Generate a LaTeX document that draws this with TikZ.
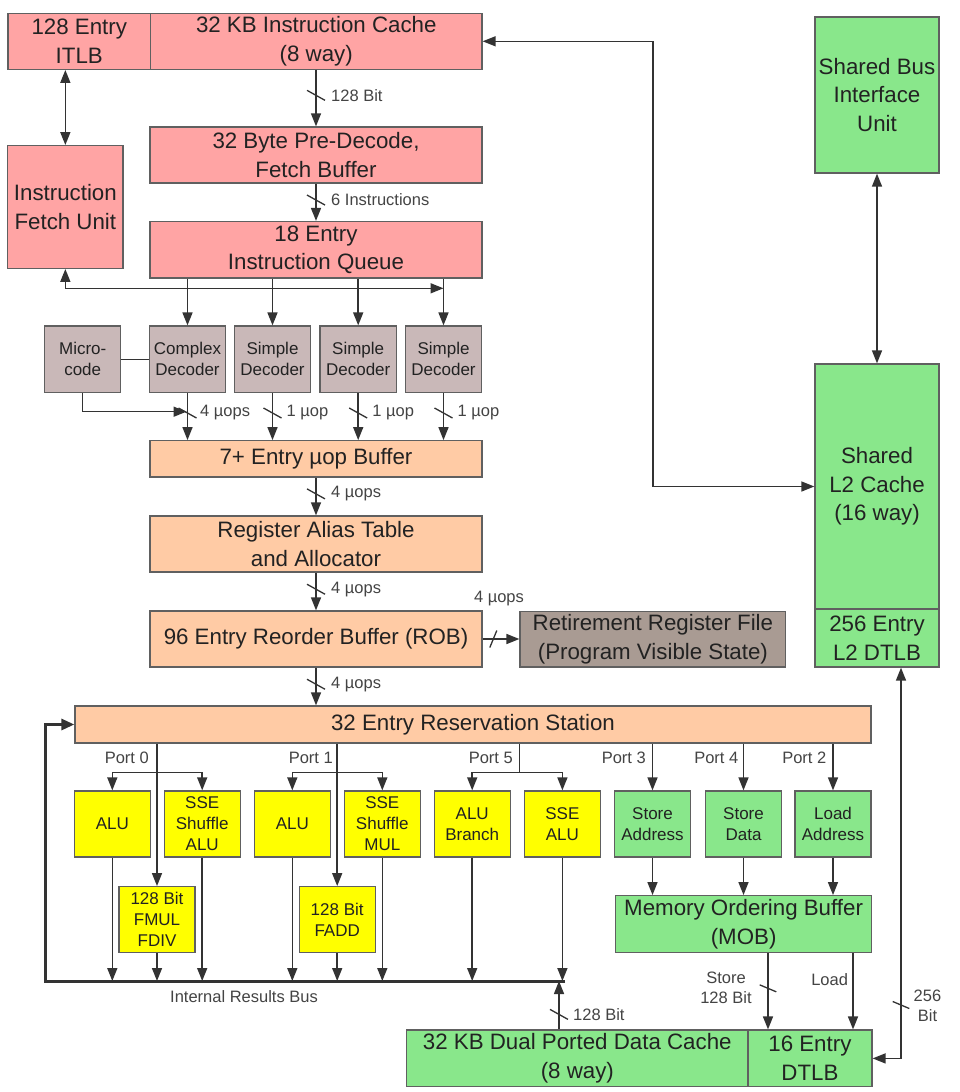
\documentclass[tikz,border=0pt]{standalone}
\usepackage{fontspec}
\setmainfont{Liberation Sans}
\usetikzlibrary{arrows.meta}
\definecolor{fe}{HTML}{FFA4A4}
\definecolor{dec}{HTML}{C9B8B8}
\definecolor{oo}{HTML}{FFCBA5}
\definecolor{rrfc}{HTML}{A99B93}
\definecolor{ex}{HTML}{FFFF00}
\definecolor{mem}{HTML}{89E78B}
\definecolor{bd}{HTML}{606060}
\definecolor{ln}{HTML}{333333}
\definecolor{tx}{HTML}{222222}
\definecolor{lb}{HTML}{444444}
\newcommand\mytick[1]{\draw[tickl] (#1) +(-9,-5) -- +(9,5);}
\newcommand\mytickb[1]{\draw[tickl] (#1) +(-8.3,-3.5) -- +(8.3,3.5);}
\begin{document}
\begin{tikzpicture}[x=1pt,y=-1pt,
  >={Triangle[length=13pt,width=10pt]},
  box/.style={draw=bd, line width=1.3pt, align=center, inner sep=0pt, text=tx},
  sz/.style 2 args={minimum width=#1, minimum height=#2},
  big/.style={font=\fontsize{22.3}{28.5}\selectfont},
  mid/.style={font=\fontsize{17}{21}\selectfont},
  lab/.style={font=\fontsize{16.5}{20.5}\selectfont, text=lb, inner sep=0pt, align=center},
  conn/.style={draw=ln, line width=1.5pt, ->},
  bi/.style={draw=ln, line width=1.5pt, <->},
  plain/.style={draw=ln, line width=1.5pt},
  tickl/.style={draw=ln, line width=1.3pt}]
\useasboundingbox (0,0) rectangle (960,1092);
\fill[white] (0,0) rectangle (960,1092);

% ---------- front end ----------
\node[box,big,fill=fe,sz={142.5pt}{56pt}] (itlb) at (79.25,41.3) {128 Entry\\ITLB};
\node[box,big,fill=fe,sz={331.5pt}{56pt}] (icache) at (316.25,41.3) {32 KB Instruction Cache\\(8 way)};
\node[box,big,fill=fe,sz={332pt}{56pt}] (predec) at (316,155) {32 Byte Pre-Decode,\\Fetch Buffer};
\node[box,big,fill=fe,sz={332pt}{56.5pt}] (iq) at (316,249.8) {18 Entry\\Instruction Queue};
\node[box,big,fill=fe,sz={115.3pt}{122.6pt}] (ifu) at (65.35,207) {Instruction\\Fetch Unit};

\node[box,mid,fill=dec,sz={76pt}{66.7pt}] (mcode) at (82.7,359.4) {Micro-\\code};
\node[box,mid,fill=dec,sz={76.4pt}{66.7pt}] (cdec) at (187.5,359.4) {Complex\\Decoder};
\node[box,mid,fill=dec,sz={76.4pt}{66.7pt}] (sdec1) at (272.5,359.4) {Simple\\Decoder};
\node[box,mid,fill=dec,sz={76.4pt}{66.7pt}] (sdec2) at (358.2,359.4) {Simple\\Decoder};
\node[box,mid,fill=dec,sz={76.4pt}{66.7pt}] (sdec3) at (443.5,359.4) {Simple\\Decoder};

\node[box,big,fill=oo,sz={332pt}{36.3pt}] (uopbuf) at (316,458.9) {7+ Entry µop Buffer};
\node[box,big,fill=oo,sz={332pt}{56pt}] (rat) at (316,544) {Register Alias Table\\and Allocator};
\node[box,big,fill=oo,sz={332pt}{56pt}] (rob) at (316,639) {96 Entry Reorder Buffer (ROB)};
\node[box,big,fill=rrfc,sz={265.7pt}{55.6pt}] (rrf) at (652.9,639.3) {Retirement Register File\\(Program Visible State)};
\node[box,big,fill=oo,sz={796pt}{37pt}] (rs) at (473,724.5) {32 Entry Reservation Station};

% ---------- execution units ----------
\node[box,mid,fill=ex,sz={76pt}{66pt}] (alu0) at (112.3,824) {ALU};
\node[box,mid,fill=ex,sz={76pt}{66pt}] (sse0) at (202.2,824) {SSE\\Shuffle\\ALU};
\node[box,mid,fill=ex,sz={76pt}{66pt}] (fmul) at (157,919.7) {128 Bit\\FMUL\\FDIV};
\node[box,mid,fill=ex,sz={76pt}{66pt}] (alu1) at (292.3,824) {ALU};
\node[box,mid,fill=ex,sz={76pt}{66pt}] (sse1) at (382.3,824) {SSE\\Shuffle\\MUL};
\node[box,mid,fill=ex,sz={76pt}{66pt}] (fadd) at (337.2,919.7) {128 Bit\\FADD};
\node[box,mid,fill=ex,sz={76pt}{66pt}] (alub) at (472.2,824) {ALU\\Branch};
\node[box,mid,fill=ex,sz={76pt}{66pt}] (sse5) at (562.4,824) {SSE\\ALU};
\node[box,mid,fill=mem,sz={76.4pt}{66pt}] (sta) at (652.5,824) {Store\\Address};
\node[box,mid,fill=mem,sz={75.7pt}{66pt}] (std) at (743.5,824) {Store\\Data};
\node[box,mid,fill=mem,sz={76pt}{66pt}] (lda) at (833,824) {Load\\Address};

% ---------- memory ----------
\node[box,big,fill=mem,sz={256pt}{57pt}] (mob) at (743.6,924.2) {Memory Ordering Buffer\\(MOB)};
\node[box,big,fill=mem,sz={341.1pt}{56.7pt}] (dcache) at (577.3,1058.4) {32 KB Dual Ported Data Cache\\(8 way)};
\node[box,big,fill=mem,sz={124.1pt}{56.7pt}] (dtlb) at (809.9,1058.4) {16 Entry\\DTLB};
\node[box,big,fill=mem,sz={124pt}{156pt}] (sbiu) at (877,95) {Shared Bus\\Interface\\Unit};
\node[box,big,fill=mem,sz={124pt}{245pt}] (l2) at (877,486.5) {Shared\\L2 Cache\\(16 way)};
\node[box,big,fill=mem,sz={124pt}{58pt}] (l2dtlb) at (877,638) {256 Entry\\L2 DTLB};

% ---------- helper coordinates ----------
\coordinate (fbY) at (0,288.3);
\coordinate (mcY) at (0,411.7);
\coordinate (spY) at (0,772.3);
\coordinate (busL) at (45,981);
\coordinate (busR) at (565,981);
\coordinate (jx) at (653,0);
\coordinate (dcx) at (559,0);
\coordinate (stx) at (768,0);
\coordinate (ldx) at (853,0);
\coordinate (x256) at (901,0);
\coordinate (t256) at (901,1005);
\coordinate (p5) at (519.5,0);

% ---------- front-end connectors ----------
\draw[conn] (predec.north |- icache.south) -- coordinate[pos=.45] (t1) (predec.north);
\mytick{t1}
\node[lab,anchor=west] (l1) at ([xshift=15pt]t1) {128 Bit};
\draw[conn] (predec.south) -- coordinate[pos=.44] (t2) (iq.north);
\mytick{t2}
\node[lab,anchor=west] (l2l) at ([xshift=15pt]t2) {6 Instructions};
\draw[bi] (itlb.south -| ifu.north) -- (ifu.north);
\draw[bi] (ifu.south) |- (sdec3.north |- fbY);
\draw[bi] (icache.east) -- (icache.east -| jx) |- (l2.west);
\draw[bi] (sbiu.south) -- (l2.north);

\foreach \d in {cdec,sdec1,sdec2,sdec3}{
  \draw[conn] (iq.south -| \d.north) -- (\d.north);
}
\draw[plain] (mcode.east) -- (cdec.west);
\draw[conn] (mcode.south) |- ([xshift=-1pt]cdec.south |- mcY);

\draw[conn] (cdec.south) -- coordinate[pos=.42] (t3) (uopbuf.north -| cdec.south);
\draw[conn] (sdec1.south) -- coordinate[pos=.42] (t4) (uopbuf.north -| sdec1.south);
\draw[conn] (sdec2.south) -- coordinate[pos=.42] (t5) (uopbuf.north -| sdec2.south);
\draw[conn] (sdec3.south) -- coordinate[pos=.42] (t6) (uopbuf.north -| sdec3.south);
\mytick{t3}\mytick{t4}\mytick{t5}\mytick{t6}
\node[lab,anchor=west] (l3) at ([xshift=12.5pt]t3) {4 µops};
\node[lab,anchor=west] (l4) at ([xshift=14pt]t4) {1 µop};
\node[lab,anchor=west] (l5) at ([xshift=14pt]t5) {1 µop};
\node[lab,anchor=west] (l6) at ([xshift=14pt]t6) {1 µop};

\draw[conn] (uopbuf.south) -- coordinate[pos=.43] (t7) (rat.north);
\mytick{t7}
\node[lab,anchor=west] (l7) at ([xshift=15pt]t7) {4 µops};
\draw[conn] (rat.south) -- coordinate[pos=.44] (t8) (rob.north);
\mytick{t8}
\node[lab,anchor=west] (l8) at ([xshift=15pt]t8) {4 µops};
\draw[conn] (rob.south) -- coordinate[pos=.44] (t9) (rs.north -| rob.south);
\mytick{t9}
\node[lab,anchor=west] (l9) at ([xshift=15pt]t9) {4 µops};
\draw[conn] (rob.east) -- coordinate[pos=.29] (t10) (rob.east -| rrf.west);
\draw[tickl] (t10) +(-3.5,8.5) -- +(3.5,-8.5);
\node[lab] (l10) at (499,599) {4 µops};

% ---------- ports ----------
\draw[conn] (rs.south -| fmul.north) -- (fmul.north);
\draw[conn] (fmul.north |- spY) -| (alu0.north);
\draw[conn] (fmul.north |- spY) -| (sse0.north);
\node[lab,anchor=east] (pp0) at (149,757.5) {Port 0};

\draw[conn] (rs.south -| fadd.north) -- (fadd.north);
\draw[conn] (fadd.north |- spY) -| (alu1.north);
\draw[conn] (fadd.north |- spY) -| (sse1.north);
\node[lab,anchor=east] (pp1) at (333,757.5) {Port 1};

\draw[plain] (rs.south -| p5) -- (p5 |- spY);
\draw[conn] (p5 |- spY) -| (alub.north);
\draw[conn] (p5 |- spY) -| (sse5.north);
\node[lab,anchor=east] (pp5) at (513,757.5) {Port 5};

\draw[conn] (rs.south -| sta.north) -- (sta.north);
\node[lab,anchor=east] (pp3) at (646,757.5) {Port 3};
\draw[conn] (rs.south -| std.north) -- (std.north);
\node[lab,anchor=east] (pp4) at (738.5,757.5) {Port 4};
\draw[conn] (rs.south -| lda.north) -- (lda.north);
\node[lab,anchor=east] (pp2) at (826.5,757.5) {Port 2};

% ---------- results bus ----------
\draw[draw=ln, line width=3pt, -{Triangle[length=13pt,width=11pt]}] (busR) -- (busL) |- (rs.west);
\foreach \u in {alu0,fmul,sse0,alu1,fadd,sse1,alub,sse5}{
  \draw[conn] (\u.south) -- (\u.south |- busL);
}
\node[lab] (lbus) at (244,997) {Internal Results Bus};
\draw[conn] (dcache.north -| dcx) -- coordinate[pos=.31] (t11) (busL -| dcx);
\mytick{t11}
\node[lab,anchor=west] (l11) at ([xshift=14pt]t11) {128 Bit};

% ---------- memory connectors ----------
\draw[conn] (sta.south) -- (sta.south |- mob.north);
\draw[conn] (std.south) -- (std.south |- mob.north);
\draw[conn] (lda.south) -- (lda.south |- mob.north);
\draw[conn] (mob.south -| stx) -- coordinate[pos=.46] (t12) (dtlb.north -| stx);
\mytickb{t12}
\node[lab] (l12) at (726,988) {Store\\128 Bit};
\draw[conn] (mob.south -| ldx) -- (dtlb.north -| ldx);
\node[lab] (l13) at (829.6,980) {Load};
\draw[bi] (dtlb.east) -| (l2dtlb.south -| x256);
\mytickb{t256}
\node[lab] (l14) at (927.5,1006) {256\\Bit};
\end{tikzpicture}
\end{document}
